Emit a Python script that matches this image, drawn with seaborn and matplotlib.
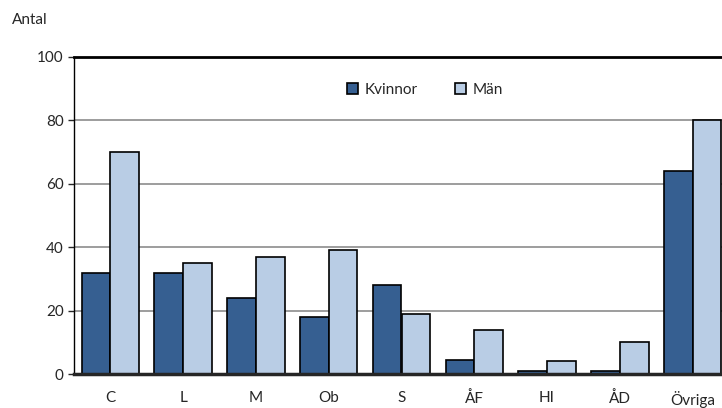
import numpy as np
import pandas as pd
import seaborn as sns
import matplotlib.pyplot as plt

# data
partier = ['C', 'L', 'M', 'Ob', 'S', 'ÅF', 'HI', 'ÅD', 'Övriga']
kvinnor = [32, 32, 24, 18, 28, 4.5, 1, 1, 64]
man = [70, 35, 37, 39, 19, 14, 4, 10, 80]
yticks = [0, 20, 40, 60, 80, 100]

df = pd.DataFrame({'parti': partier * 2,
                   'antal': kvinnor + man,
                   'kon': ['Kvinnor'] * len(partier) + ['Män'] * len(partier)})

sns.set_style('white')
plt.rcParams['font.family'] = ['Lato', 'DejaVu Sans']

fig = plt.figure(figsize=(7.22, 4.08), dpi=100)
ax = fig.add_axes([74 / 722, 34 / 408, 655 / 722, 317 / 408])

sns.barplot(data=df, x='parti', y='antal', hue='kon', order=partier,
            palette=['#365F91', '#B9CDE5'], saturation=1,
            edgecolor='black', linewidth=1.2,
            width=0.79, gap=0, ax=ax, zorder=3)

ax.set_ylim(0, 100)
ax.set_yticks(yticks)
ax.yaxis.grid(True, color='#8c8c8c', linewidth=1.2, zorder=0)
ax.set_axisbelow(True)
ax.set_xlabel('')
ax.set_ylabel('')
ax.tick_params(axis='x', length=0, pad=12, labelsize=11)
ax.tick_params(axis='y', length=4, width=1, direction='out', labelsize=11, left=True)
for s in ['left', 'top', 'right']:
    ax.spines[s].set_color('black')
ax.spines['left'].set_linewidth(1)
ax.spines['top'].set_linewidth(2)
ax.spines['bottom'].set_linewidth(2.5)
ax.spines['bottom'].set_zorder(5)

ax.legend(loc='center', bbox_to_anchor=(425 / 722, 1 - 90 / 408),
          bbox_transform=fig.transFigure, ncol=2, frameon=False,
          fontsize=11, handlelength=0.7, handleheight=0.7,
          handletextpad=0.4, columnspacing=2.5)

fig.text(12 / 722, 1 - 20 / 408, 'Antal', fontsize=11, va='center', ha='left')

fig.savefig('out.png', dpi=100)
